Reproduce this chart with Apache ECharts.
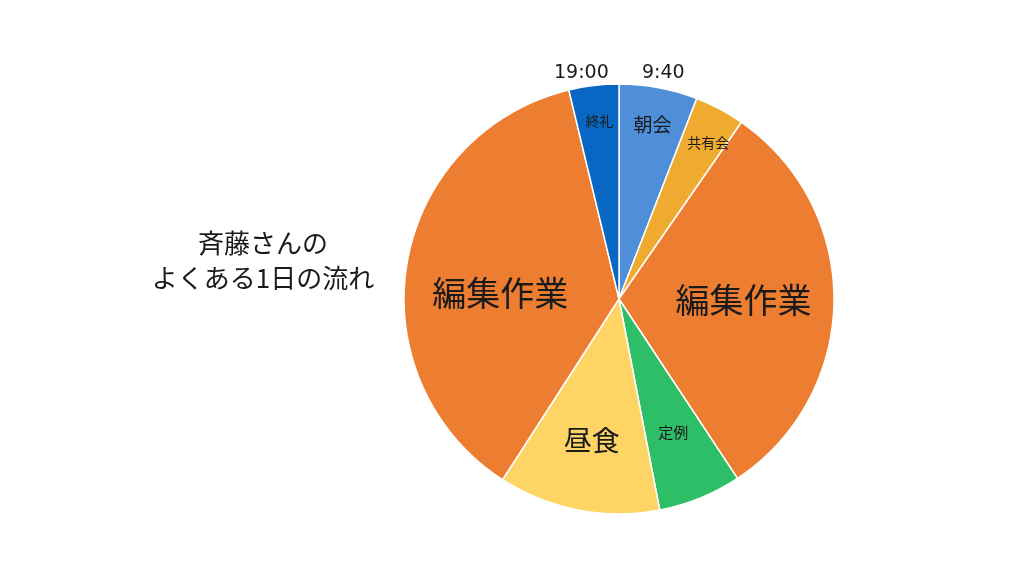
<!DOCTYPE html>
<html>
<head>
<meta charset="utf-8">
<script src="https://cdn.jsdelivr.net/npm/echarts@6/dist/echarts.min.js"></script>
<style>
html,body{margin:0;padding:0;background:#fff}
#main{width:1024px;height:576px}
</style>
</head>
<body>
<div id="main"></div>
<script>
// 9:40 〜 19:00 の流れ（分）
var tasks = ['朝会', '共有会', '編集作業', '定例', '昼食', '編集作業', '終礼'];
var minutes = [33, 21, 174, 35, 68, 208, 21];
var startTime = '9:40';
var endTime = '19:00';
var title = '斉藤さんの\nよくある1日の流れ';

// 見た目
var colors = ['#4f8fda', '#eeab2f', '#ed7d31', '#2dbe67', '#fed565', '#ed7d31', '#0867c3'];
var fontSizes = [19, 14, 34, 15, 28, 34, 14];
var labelRing = [0, 0, 2, 1, 1, 2, 0]; // どのリングにラベルを出すか
var labelDown = [5, 4, 0, 0, 0, 15, 2];  // ラベルを下にずらす量
var labelRight = [0, 8, 0, 0, 0, 8, 4];

var font = '"Noto Sans CJK JP", sans-serif';
var R = 215;
// ラベル用リングの内半径（inside ラベルは (r0+r)/2 に置かれる）
var ringInner = [143, 66, 28];

var myChart = echarts.init(document.getElementById('main'), null, {renderer: 'canvas'});

var series = [{
    type: 'pie',
    center: [619, 299],
    radius: [0, R],
    startAngle: 90,
    clockwise: true,
    animation: false,
    silent: true,
    itemStyle: {borderColor: '#fff', borderWidth: 1.5},
    label: {show: false},
    labelLine: {show: false},
    data: tasks.map(function (t, i) {
        return {name: t, value: minutes[i], itemStyle: {color: colors[i]}};
    })
}];

ringInner.forEach(function (r0, k) {
    series.push({
        type: 'pie',
        center: [619, 299],
        radius: [r0, R],
        startAngle: 90,
        clockwise: true,
        animation: false,
        silent: true,
        z: 3,
        itemStyle: {color: 'rgba(0,0,0,0)', borderWidth: 0},
        labelLine: {show: false},
        data: tasks.map(function (t, i) {
            var fs = fontSizes[i];
            var fmt = labelDown[i] ? '{g| }\n{t|{b}}' : '{t|{b}}';
            return {
                name: t,
                value: minutes[i],
                label: {
                    show: labelRing[i] === k,
                    position: 'inside',
                    formatter: fmt,
                    padding: [0, 0, 0, labelRight[i]],
                    rich: {
                        g: {fontSize: 2, lineHeight: labelDown[i] * 2, height: labelDown[i] * 2},
                        t: {fontFamily: font, fontSize: fs, lineHeight: Math.round(fs * 1.3), color: '#1a1a1a'}
                    }
                }
            };
        })
    });
});

myChart.setOption({
    backgroundColor: '#fff',
    title: {
        text: title,
        left: 258,
        top: 221,
        textAlign: 'center',
        textStyle: {fontFamily: font, fontSize: 26, fontWeight: 'normal', color: '#1a1a1a', lineHeight: 35}
    },
    graphic: [
        {type: 'text', left: 554, top: 64, style: {text: endTime, font: '19px "DejaVu Sans", sans-serif', fill: '#1a1a1a'}},
        {type: 'text', left: 642, top: 64, style: {text: startTime, font: '19px "DejaVu Sans", sans-serif', fill: '#1a1a1a'}}
    ],
    series: series
});
</script>
</body>
</html>
